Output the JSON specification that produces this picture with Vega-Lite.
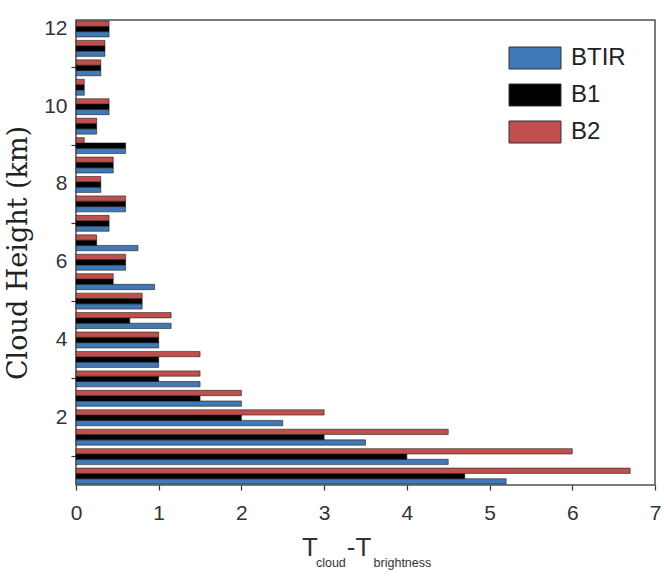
{
  "$schema": "https://vega.github.io/schema/vega-lite/v6.json",
  "width": 579,
  "height": 465,
  "autosize": {"type": "none"},
  "padding": {"left": 76, "top": 20, "right": 9, "bottom": 103},
  "background": "white",
  "config": {
    "view": {"stroke": "#505050", "strokeWidth": 1.5},
    "font": "Liberation Sans"
  },
  "title": {
    "text": "T\u2007\u2007-T",
    "subtitle": "\u200b\u2007\u2007cloud\u2007\u2007\u2007\u2007brightness",
    "orient": "bottom",
    "anchor": "start",
    "frame": "group",
    "dx": 226,
    "offset": 12,
    "font": "Liberation Sans",
    "fontSize": 26,
    "fontWeight": "normal",
    "color": "#333",
    "subtitleFont": "Liberation Sans",
    "subtitleFontSize": 12.5,
    "subtitleColor": "#333",
    "subtitlePadding": -4
  },
  "data": {
    "values": [
      {"h": 12, "s": "BTIR", "v": 0.4}, {"h": 12, "s": "B1", "v": 0.4}, {"h": 12, "s": "B2", "v": 0.4},
      {"h": 11.5, "s": "BTIR", "v": 0.35}, {"h": 11.5, "s": "B1", "v": 0.35}, {"h": 11.5, "s": "B2", "v": 0.35},
      {"h": 11, "s": "BTIR", "v": 0.3}, {"h": 11, "s": "B1", "v": 0.3}, {"h": 11, "s": "B2", "v": 0.3},
      {"h": 10.5, "s": "BTIR", "v": 0.1}, {"h": 10.5, "s": "B1", "v": 0.1}, {"h": 10.5, "s": "B2", "v": 0.1},
      {"h": 10, "s": "BTIR", "v": 0.4}, {"h": 10, "s": "B1", "v": 0.4}, {"h": 10, "s": "B2", "v": 0.4},
      {"h": 9.5, "s": "BTIR", "v": 0.25}, {"h": 9.5, "s": "B1", "v": 0.25}, {"h": 9.5, "s": "B2", "v": 0.25},
      {"h": 9, "s": "BTIR", "v": 0.6}, {"h": 9, "s": "B1", "v": 0.6}, {"h": 9, "s": "B2", "v": 0.1},
      {"h": 8.5, "s": "BTIR", "v": 0.45}, {"h": 8.5, "s": "B1", "v": 0.45}, {"h": 8.5, "s": "B2", "v": 0.45},
      {"h": 8, "s": "BTIR", "v": 0.3}, {"h": 8, "s": "B1", "v": 0.3}, {"h": 8, "s": "B2", "v": 0.3},
      {"h": 7.5, "s": "BTIR", "v": 0.6}, {"h": 7.5, "s": "B1", "v": 0.6}, {"h": 7.5, "s": "B2", "v": 0.6},
      {"h": 7, "s": "BTIR", "v": 0.4}, {"h": 7, "s": "B1", "v": 0.4}, {"h": 7, "s": "B2", "v": 0.4},
      {"h": 6.5, "s": "BTIR", "v": 0.75}, {"h": 6.5, "s": "B1", "v": 0.25}, {"h": 6.5, "s": "B2", "v": 0.25},
      {"h": 6, "s": "BTIR", "v": 0.6}, {"h": 6, "s": "B1", "v": 0.6}, {"h": 6, "s": "B2", "v": 0.6},
      {"h": 5.5, "s": "BTIR", "v": 0.95}, {"h": 5.5, "s": "B1", "v": 0.45}, {"h": 5.5, "s": "B2", "v": 0.45},
      {"h": 5, "s": "BTIR", "v": 0.8}, {"h": 5, "s": "B1", "v": 0.8}, {"h": 5, "s": "B2", "v": 0.8},
      {"h": 4.5, "s": "BTIR", "v": 1.15}, {"h": 4.5, "s": "B1", "v": 0.65}, {"h": 4.5, "s": "B2", "v": 1.15},
      {"h": 4, "s": "BTIR", "v": 1.0}, {"h": 4, "s": "B1", "v": 1.0}, {"h": 4, "s": "B2", "v": 1.0},
      {"h": 3.5, "s": "BTIR", "v": 1.0}, {"h": 3.5, "s": "B1", "v": 1.0}, {"h": 3.5, "s": "B2", "v": 1.5},
      {"h": 3, "s": "BTIR", "v": 1.5}, {"h": 3, "s": "B1", "v": 1.0}, {"h": 3, "s": "B2", "v": 1.5},
      {"h": 2.5, "s": "BTIR", "v": 2.0}, {"h": 2.5, "s": "B1", "v": 1.5}, {"h": 2.5, "s": "B2", "v": 2.0},
      {"h": 2, "s": "BTIR", "v": 2.5}, {"h": 2, "s": "B1", "v": 2.0}, {"h": 2, "s": "B2", "v": 3.0},
      {"h": 1.5, "s": "BTIR", "v": 3.5}, {"h": 1.5, "s": "B1", "v": 3.0}, {"h": 1.5, "s": "B2", "v": 4.5},
      {"h": 1, "s": "BTIR", "v": 4.5}, {"h": 1, "s": "B1", "v": 4.0}, {"h": 1, "s": "B2", "v": 6.0},
      {"h": 0.5, "s": "BTIR", "v": 5.2}, {"h": 0.5, "s": "B1", "v": 4.7}, {"h": 0.5, "s": "B2", "v": 6.7}
    ]
  },
  "mark": {"type": "bar", "stroke": "#1a1a1a", "strokeWidth": 0.8, "strokeOpacity": 0.7},
  "encoding": {
    "y": {
      "field": "h",
      "type": "ordinal",
      "sort": "descending",
      "scale": {"paddingInner": 0.18, "paddingOuter": 0.05},
      "axis": {
        "title": "Cloud Height (km)",
        "titleFont": "DejaVu Serif",
        "titleFontSize": 27,
        "titleFontWeight": "normal",
        "titleColor": "#222",
        "titlePadding": 11,
        "labelExpr": "datum.value % 2 === 0 ? datum.label : ''",
        "labelFontSize": 21,
        "labelColor": "#333",
        "labelPadding": 4,
        "labelAngle": 0,
        "domain": false,
        "tickSize": 5,
        "tickWidth": 1.2,
        "tickColor": "#333",
        "tickOpacity": {"condition": {"test": "datum.value % 2 === 1", "value": 1}, "value": 0}
      }
    },
    "yOffset": {
      "field": "s",
      "type": "nominal",
      "scale": {"domain": ["B2", "B1", "BTIR"], "paddingInner": 0, "paddingOuter": 0}
    },
    "x": {
      "field": "v",
      "type": "quantitative",
      "scale": {"domain": [0, 7], "nice": false},
      "axis": {
        "title": null,
        "values": [0, 0.5, 1, 1.5, 2, 2.5, 3, 3.5, 4, 4.5, 5, 5.5, 6, 6.5, 7],
        "format": "d",
        "labelExpr": "datum.value % 1 === 0 ? datum.label : ''",
        "labelFontSize": 21,
        "labelColor": "#333",
        "labelPadding": 12,
        "labelFlush": false,
        "domain": false,
        "grid": false,
        "tickSize": 5,
        "tickWidth": 1.2,
        "tickColor": "#333"
      }
    },
    "color": {
      "field": "s",
      "type": "nominal",
      "scale": {"domain": ["BTIR", "B1", "B2"], "range": ["#4079b5", "#000000", "#c0504d"]},
      "legend": {
        "title": null,
        "orient": "none",
        "legendX": 447,
        "legendY": 26,
        "padding": 0,
        "symbolType": "M-2.6,-1.1H2.6V1.1H-2.6Z",
        "symbolSize": 400,
        "symbolStrokeColor": "#333",
        "symbolStrokeWidth": 1,
        "symbolOpacity": 1,
        "labelFontSize": 24,
        "labelColor": "#222",
        "labelOffset": 24,
        "rowPadding": 11
      }
    }
  }
}
